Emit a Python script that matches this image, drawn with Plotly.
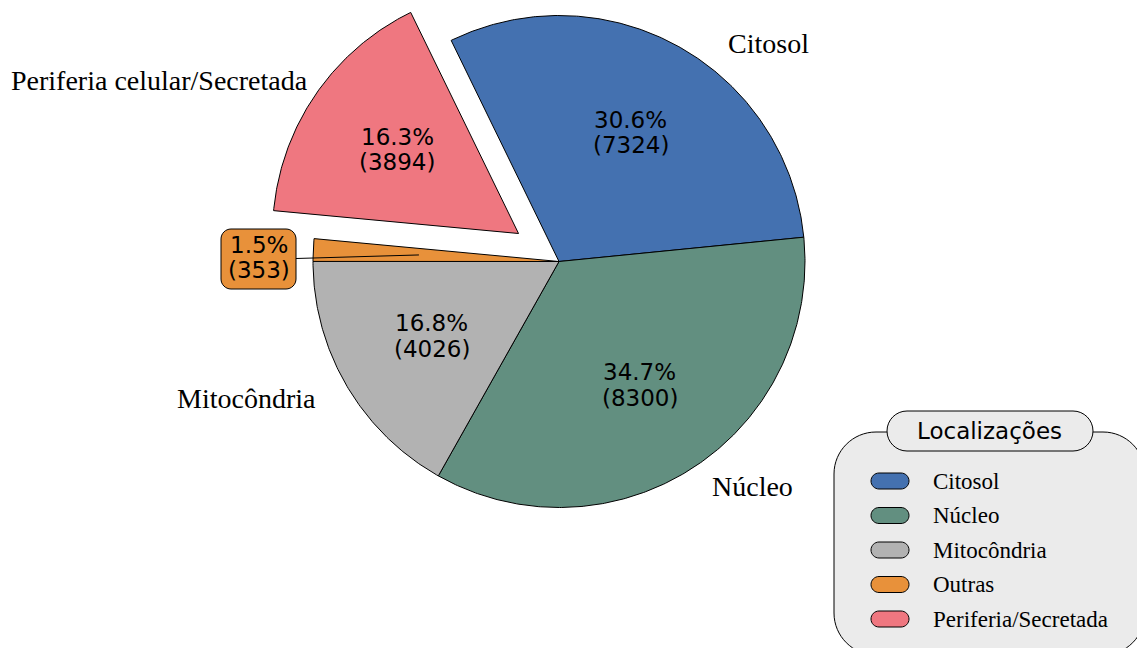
import math
import plotly.graph_objects as go

# ---- data -------------------------------------------------------------
categories = ["Citosol", "Núcleo", "Mitocôndria", "Outras", "Periferia/Secretada"]
slice_names = ["Citosol", "Núcleo", "Mitocôndria", "Outras", "Periferia celular/Secretada"]
counts = [7324, 8300, 4026, 353, 3894]
colors = ["#4471B0", "#628F80", "#B2B2B2", "#E8913A", "#EF7780"]
explode = [0, 0, 0, 0, 0.2]
legend_title = "Localizações"

# ---- layout constants (pixel space) ------------------------------------
W, H = 1137, 648
CX, CY, R = 559, 261.5, 246
START = 116.0          # start angle in degrees; wedges run clockwise
PCT_DIST = 0.6
LABEL_DIST = 1.1
SANS = "DejaVu Sans"
SERIF = "Liberation Serif"
PCT_SIZE = 23
LINE_GAP = 25.7
NAME_SIZE = 28
LEG_SIZE = 23
# hand tweaks for the outer name labels (dx, dy in px)
name_nudge = [(35, 18), (3, -2), (-7, 0), (0, 0), (14, 1)]

total = sum(counts)
fig = go.Figure()
shapes = []
annotations = []


def rad(a):
    return math.radians(a)


def rounded_rect(x0, y0, x1, y1, r):
    k = 0.5523 * r
    return (
        f"M{x0 + r},{y0} L{x1 - r},{y0} "
        f"C{x1 - r + k},{y0} {x1},{y0 + r - k} {x1},{y0 + r} "
        f"L{x1},{y1 - r} "
        f"C{x1},{y1 - r + k} {x1 - r + k},{y1} {x1 - r},{y1} "
        f"L{x0 + r},{y1} "
        f"C{x0 + r - k},{y1} {x0},{y1 - r + k} {x0},{y1 - r} "
        f"L{x0},{y0 + r} "
        f"C{x0},{y0 + r - k} {x0 + r - k},{y0} {x0 + r},{y0} Z"
    )


angle = START
for i, (name, v, col, ex) in enumerate(zip(slice_names, counts, colors, explode)):
    ext = v / total * 360.0
    a0, a1 = angle, angle - ext
    mid = (a0 + a1) / 2
    angle = a1
    ox = CX + ex * R * math.cos(rad(mid))
    oy = CY - ex * R * math.sin(rad(mid))
    n = max(4, int(ext * 2))
    angs = [a0 + (a1 - a0) * k / n for k in range(n + 1)]
    xs = [ox] + [ox + R * math.cos(rad(a)) for a in angs] + [ox]
    ys = [oy] + [oy - R * math.sin(rad(a)) for a in angs] + [oy]
    fig.add_trace(go.Scatter(
        x=xs, y=ys, mode="lines", fill="toself", fillcolor=col,
        line=dict(color="black", width=1), hoverinfo="skip", showlegend=False,
    ))

    pct_txt = f"{v / total * 100:.1f}%"
    val_txt = f"({v})"
    cmid, smid = math.cos(rad(mid)), math.sin(rad(mid))

    if categories[i] == "Outras":
        # small wedge: value box to the left with a leader line
        bx0, by0, bx1, by1 = 221, 229, 296, 289
        shapes.append(dict(type="line", xref="x", yref="y",
                           x0=bx1, y0=258.5,
                           x1=ox + 0.57 * R * cmid, y1=oy - 0.57 * R * smid,
                           line=dict(color="black", width=1), layer="above"))
        shapes.append(dict(type="path", xref="x", yref="y",
                           path=rounded_rect(bx0, by0, bx1, by1, 10),
                           fillcolor=col, line=dict(color="black", width=1),
                           layer="above"))
        tx, ty = (bx0 + bx1) / 2, (by0 + by1) / 2 - 1.5
    else:
        tx = ox + PCT_DIST * R * cmid
        ty = oy - PCT_DIST * R * smid
        lx = ox + LABEL_DIST * R * cmid + name_nudge[i][0]
        ly = oy - LABEL_DIST * R * smid + name_nudge[i][1]
        annotations.append(dict(
            x=lx, y=ly, xref="x", yref="y", text=name, showarrow=False,
            xanchor="left" if cmid > 0 else "right", yanchor="middle",
            font=dict(family=SERIF, size=NAME_SIZE, color="black"),
        ))
    for txt, dy in ((pct_txt, -LINE_GAP / 2), (val_txt, LINE_GAP / 2)):
        annotations.append(dict(
            x=tx, y=ty + dy, xref="x", yref="y", text=txt, showarrow=False,
            xanchor="center", yanchor="middle",
            font=dict(family=SANS, size=PCT_SIZE, color="black"),
        ))

# ---- legend -------------------------------------------------------------
LX0, LY0, LX1, LY1 = 834, 432, 1145, 655
shapes.append(dict(type="path", xref="x", yref="y",
                   path=rounded_rect(LX0, LY0, LX1, LY1, 42),
                   fillcolor="#EBEBEB", line=dict(color="black", width=1),
                   layer="above"))
TX0, TY0, TX1, TY1 = 887, 411, 1093, 451
shapes.append(dict(type="path", xref="x", yref="y",
                   path=rounded_rect(TX0, TY0, TX1, TY1, 20),
                   fillcolor="#EBEBEB", line=dict(color="black", width=1),
                   layer="above"))
annotations.append(dict(
    x=(TX0 + TX1) / 2 - 1, y=(TY0 + TY1) / 2, xref="x", yref="y",
    text=legend_title, showarrow=False, xanchor="center", yanchor="middle",
    font=dict(family=SANS, size=LEG_SIZE, color="black"),
))
ROW0, ROW_STEP = 481, 34.5
for j, (cat, col) in enumerate(zip(categories, colors)):
    yc = ROW0 + j * ROW_STEP
    shapes.append(dict(type="path", xref="x", yref="y",
                       path=rounded_rect(871, yc - 8, 909, yc + 8, 8),
                       fillcolor=col, line=dict(color="black", width=1),
                       layer="above"))
    annotations.append(dict(
        x=931, y=yc, xref="x", yref="y", text=cat, showarrow=False,
        xanchor="left", yanchor="middle",
        font=dict(family=SERIF, size=LEG_SIZE, color="black"),
    ))

fig.update_layout(
    width=W, height=H,
    margin=dict(l=0, r=0, t=0, b=0),
    paper_bgcolor="white", plot_bgcolor="white",
    xaxis=dict(range=[0, W], visible=False, fixedrange=True),
    yaxis=dict(range=[H, 0], visible=False, fixedrange=True),
    shapes=shapes, annotations=annotations,
    showlegend=False,
)

fig.write_html("out.html")
